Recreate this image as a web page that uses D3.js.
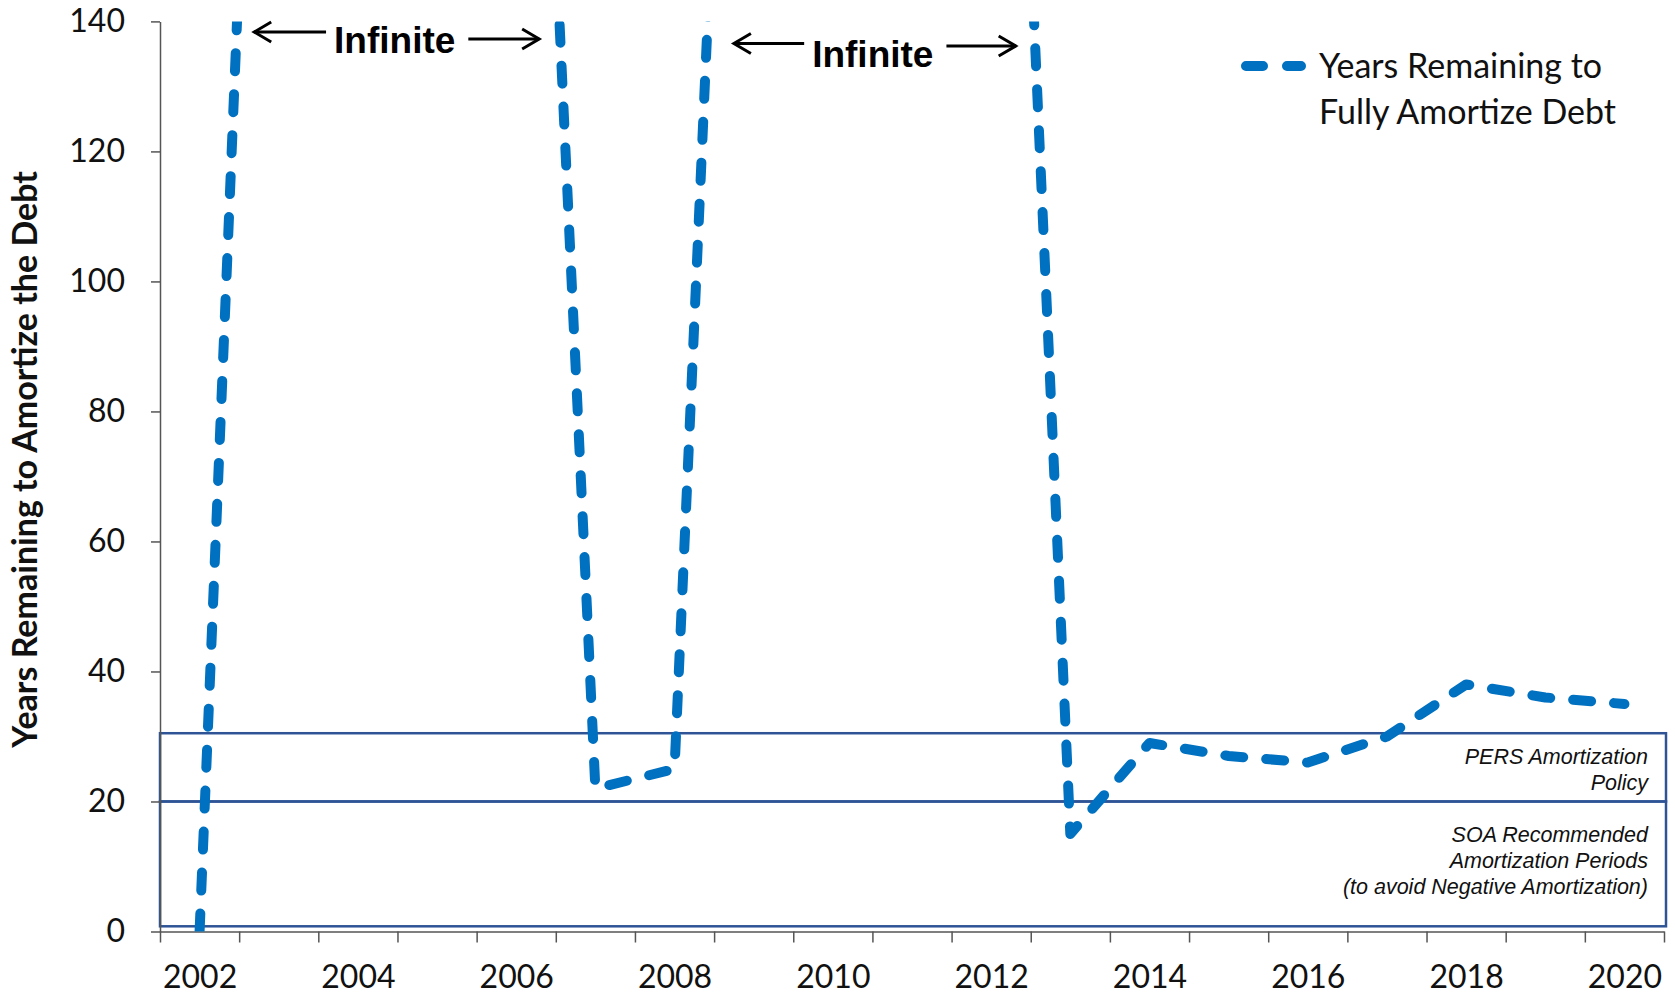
<!DOCTYPE html>
<html>
<head>
<meta charset="utf-8">
<script src="https://cdn.jsdelivr.net/npm/d3@7"></script>
<style>
  body { margin: 0; background: #fff; }
  .axis text { font-family: Lato, "Open Sans", sans-serif; font-size: 32px; fill: #111; }
  .axis path, .axis line { stroke: #555; stroke-width: 1.5px; }
  .box-label { font-family: "Liberation Sans", Arial, sans-serif; font-style: italic; font-size: 21.5px; fill: #111; }
  .infinite { font-family: "Liberation Sans", Arial, sans-serif; font-weight: bold; font-size: 37px; fill: #000; }
</style>
</head>
<body>
<div id="chart"></div>
<script>

var width = 1675,
    height = 994;

var margin = {top: 21.4, right: 11, bottom: 62.5, left: 160};

// chart data
var years = d3.range(2002, 2021);
// years with "infinite" amortization are plotted at a large value and clipped at the top
var yearsRemaining = [0, 296, 300, 300, 282, 22, 25, 300, 300, 300, 288, 15, 29, 27, 26, 30, 38, 36, 35];
var yTicks = [0, 20, 40, 60, 80, 100, 120, 140];
var xLabels = [2002, 2004, 2006, 2008, 2010, 2012, 2014, 2016, 2018, 2020];

var seriesName = ["Years Remaining to", "Fully Amortize Debt"];
var yTitle = "Years Remaining to Amortize the Debt";

// policy bands drawn as boxes
var bandNames = [["PERS Amortization", "Policy"],
                 ["SOA Recommended", "Amortization Periods", "(to avoid Negative Amortization)"]];
var bandLow = [20, 0.8];
var bandHigh = [30.5, 20];

// "Infinite" annotation spans (in years)
var infiniteFrom = [2002.69, 2008.75];
var infiniteTo = [2006.29, 2012.31];

var data = years.map(function(d, i) { return {year: d, value: yearsRemaining[i]}; });

var svg = d3.select("#chart").append("svg")
  .attr("width", width)
  .attr("height", height);

var x = d3.scaleLinear()
  .domain([2001.5, 2020.5])
  .range([margin.left, width - margin.right]);

var y = d3.scaleLinear()
  .domain([0, 140])
  .range([height - margin.bottom, margin.top]);

// boxes
var bands = svg.append("g").attr("class", "bands");
bandNames.forEach(function(names, i) {
  var top = y(bandHigh[i]), bot = y(bandLow[i]);
  bands.append("rect")
    .attr("x", x(2001.5))
    .attr("y", top)
    .attr("width", x(2020.5) - x(2001.5) + 2)
    .attr("height", bot - top)
    .attr("fill", "none")
    .attr("stroke", "#2F5496")
    .attr("stroke-width", 2.5);

  var lineH = 26,
      mid = (top + bot) / 2 + (i == 0 ? 2 : -3),
      start = mid - (names.length - 1) * lineH / 2;
  names.forEach(function(t, j) {
    bands.append("text")
      .attr("class", "box-label")
      .attr("x", x(2020.5) - 16)
      .attr("y", start + j * lineH)
      .attr("dy", "0.35em")
      .attr("text-anchor", "end")
      .text(t);
  });
});

// axes
var yAxis = d3.axisLeft(y)
  .tickValues(yTicks)
  .tickSize(9)
  .tickSizeOuter(0)
  .tickPadding(26);

svg.append("g")
  .attr("class", "axis y-axis")
  .attr("transform", "translate(" + margin.left + ",0)")
  .call(yAxis);

var xTickAxis = d3.axisBottom(x)
  .tickValues(d3.range(2001.5, 2021, 1))
  .tickSize(11)
  .tickSizeOuter(0)
  .tickFormat("");

svg.append("g")
  .attr("class", "axis x-axis")
  .attr("transform", "translate(0," + y(0) + ")")
  .call(xTickAxis);

var xLabelAxis = d3.axisBottom(x)
  .tickValues(xLabels)
  .tickSize(0)
  .tickPadding(34)
  .tickFormat(d3.format("d"));

svg.append("g")
  .attr("class", "axis x-labels")
  .attr("transform", "translate(0," + y(0) + ")")
  .call(xLabelAxis)
  .select(".domain").remove();

svg.append("text")
  .attr("transform", "translate(37," + ((y(0) + y(140)) / 2 - 17) + ") rotate(-90)")
  .attr("text-anchor", "middle")
  .style("font-family", "Lato, sans-serif")
  .style("font-weight", "bold")
  .style("font-size", "34px")
  .attr("fill", "#111")
  .text(yTitle);

// line
svg.append("clipPath")
  .attr("id", "plot-clip")
  .append("rect")
  .attr("x", margin.left)
  .attr("y", y(140))
  .attr("width", width - margin.left)
  .attr("height", y(0) - y(140));

var lineGenerator = d3.line()
  .x(function(d) { return x(d.year); })
  .y(function(d) { return y(d.value); });

svg.append("path")
  .datum(data)
  .attr("clip-path", "url(#plot-clip)")
  .attr("d", lineGenerator)
  .attr("fill", "none")
  .attr("stroke", "#0070C0")
  .attr("stroke-width", 10)
  .attr("stroke-linecap", "round")
  .attr("stroke-linejoin", "round")
  .attr("stroke-dasharray", "18 23");

// "Infinite" annotations
function arrow(g, x1, x2, yy) {
  var dir = x2 > x1 ? 1 : -1;
  g.append("line")
    .attr("x1", x1).attr("x2", x2)
    .attr("y1", yy).attr("y2", yy)
    .attr("stroke", "#000").attr("stroke-width", 3);
  g.append("path")
    .attr("d", "M" + (x2 - dir * 17) + "," + (yy - 10) + "L" + x2 + "," + yy + "L" + (x2 - dir * 17) + "," + (yy + 10))
    .attr("fill", "none")
    .attr("stroke", "#000")
    .attr("stroke-width", 3);
}

var annos = svg.append("g").attr("class", "annotations");
infiniteFrom.forEach(function(a, i) {
  var left = x(a), right = x(infiniteTo[i]),
      base = i == 0 ? 53 : 66.5;
  var label = annos.append("text")
    .attr("class", "infinite")
    .attr("x", (left + right) / 2 - 2)
    .attr("y", base)
    .attr("text-anchor", "middle")
    .text("Infinite");
  var w = label.node().getComputedTextLength(),
      cx = (left + right) / 2 - 2;
  arrow(annos, cx - w / 2 - 8, left, base - (i == 0 ? 21 : 23));
  arrow(annos, cx + w / 2 + 13, right, base - (i == 0 ? 14 : 20.5));
});

// legend
var legend = svg.append("g").attr("class", "legend");
legend.append("line")
  .attr("x1", 1246).attr("x2", 1301)
  .attr("y1", 66).attr("y2", 66)
  .attr("stroke", "#0070C0")
  .attr("stroke-width", 10)
  .attr("stroke-linecap", "round")
  .attr("stroke-dasharray", "17 24");

seriesName.forEach(function(t, i) {
  legend.append("text")
    .attr("x", 1319)
    .attr("y", 66 + i * 46)
    .attr("dy", "0.35em")
    .style("font-family", "Lato, sans-serif")
    .style("font-size", "34px")
    .attr("fill", "#111")
    .text(t);
});

</script>
</body>
</html>
